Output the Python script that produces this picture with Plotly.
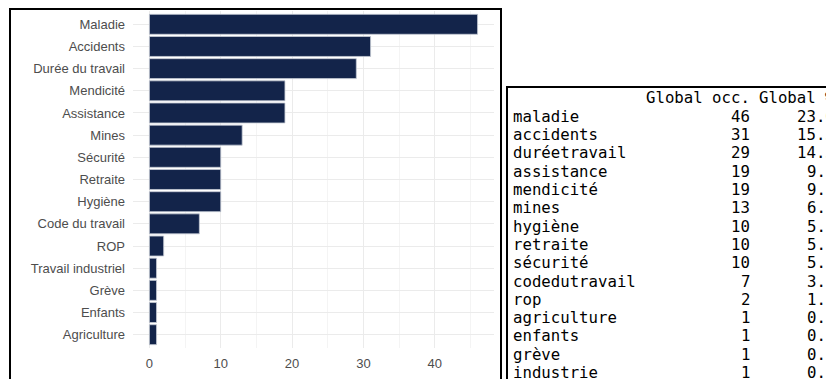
import plotly.graph_objects as go

# bar chart data (top to bottom)
themes = ['Maladie', 'Accidents', 'Durée du travail', 'Mendicité', 'Assistance', 'Mines',
          'Sécurité', 'Retraite', 'Hygiène', 'Code du travail', 'ROP', 'Travail industriel',
          'Grève', 'Enfants', 'Agriculture']
counts = [46, 31, 29, 19, 19, 13, 10, 10, 10, 7, 2, 1, 1, 1, 1]

# console table data
table_names = ['maladie', 'accidents', 'duréetravail', 'assistance', 'mendicité', 'mines',
               'hygiène', 'retraite', 'sécurité', 'codedutravail', 'rop', 'agriculture',
               'enfants', 'grève', 'industrie']
table_occ = [46, 31, 29, 19, 19, 13, 10, 10, 10, 7, 2, 1, 1, 1, 1]
table_pct = ['23.0', '15.5', '14.5', '9.5', '9.5', '6.5', '5.0', '5.0', '5.0', '3.5',
             '1.0', '0.5', '0.5', '0.5', '0.5']
table_cols = ['Global occ.', 'Global %']

# page body has an 8px margin, so the figure starts 8px in
OFF = 8
W, H = 834, 379 - OFF
def px(x):
    return (x - OFF) / W
def py(y):
    return 1 - (y - OFF) / H

fig = go.Figure()
fig.add_trace(go.Bar(
    x=counts, y=themes, orientation='h',
    marker=dict(color='#13244a', line=dict(color='#c5cad4', width=0.8)),
    width=0.9,
))

mono = dict(family='DejaVu Sans Mono', size=15.7, color='#000000')
occ_right, pct_right = 752, 837
ann = []
ann.append(dict(x=px(occ_right), y=py(97.5), text=table_cols[0], xanchor='right'))
ann.append(dict(x=px(pct_right), y=py(97.5), text=table_cols[1], xanchor='right'))
for i, (n, o, p) in enumerate(zip(table_names, table_occ, table_pct)):
    yy = py(116.3 + i * 18.3)
    ann.append(dict(x=px(511), y=yy, text=n, xanchor='left'))
    ann.append(dict(x=px(occ_right), y=yy, text=str(o), xanchor='right'))
    ann.append(dict(x=px(pct_right), y=yy, text=p, xanchor='right'))
for a in ann:
    a.update(xref='paper', yref='paper', yanchor='middle', showarrow=False, font=mono)

fig.update_layout(
    width=W, height=H,
    margin=dict(l=0, r=0, t=0, b=0),
    paper_bgcolor='white', plot_bgcolor='white',
    showlegend=False,
    annotations=ann,
    shapes=[
        dict(type='rect', xref='paper', yref='paper', x0=px(10), x1=px(501), y0=py(9), y1=py(395),
             line=dict(color='black', width=2)),
        dict(type='rect', xref='paper', yref='paper', x0=px(507), x1=px(850), y0=py(87), y1=py(395),
             line=dict(color='black', width=2)),
    ],
    xaxis=dict(
        domain=[px(133), px(494)], range=[-2.3, 48.3],
        tickvals=[0, 10, 20, 30, 40], showgrid=True, gridcolor='#EBEBEB', gridwidth=1,
        minor=dict(dtick=5, tick0=0, showgrid=True, gridcolor='#F4F4F4', gridwidth=1),
        zeroline=False, showline=False, ticks='',
        tickfont=dict(family='Liberation Sans', size=13, color='#4D4D4D'),
        ticklabelstandoff=6,
    ),
    yaxis=dict(
        domain=[py(348), py(11)], range=[14.6, -0.6],
        categoryorder='array', categoryarray=themes,
        showgrid=True, gridcolor='#EBEBEB', gridwidth=1,
        zeroline=False, showline=False, ticks='',
        tickfont=dict(family='Liberation Sans', size=13, color='#4D4D4D'),
        ticklabelstandoff=7,
    ),
)

fig.write_html("out.html")
